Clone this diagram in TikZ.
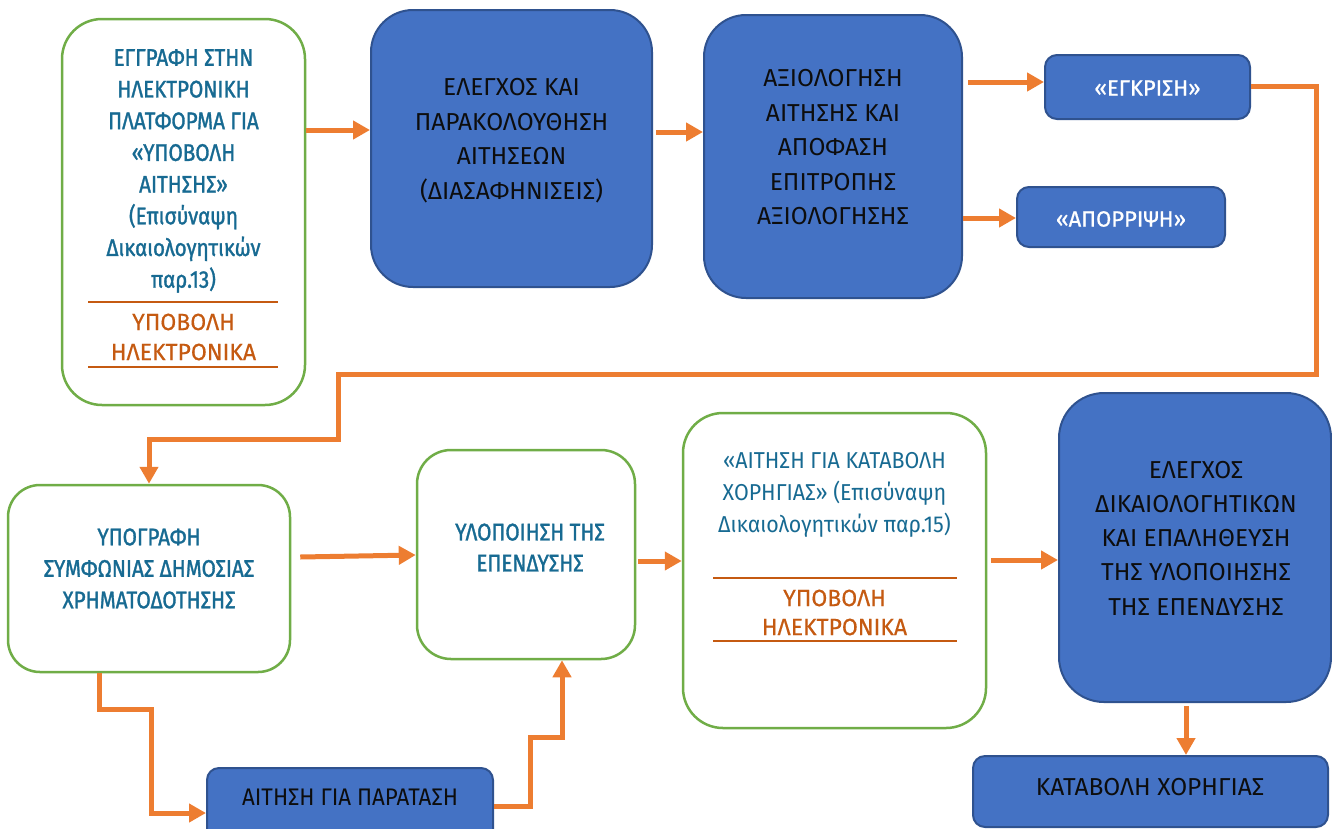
\documentclass[tikz,border=0pt]{standalone}
\usepackage{fontspec}
\setmainfont{Fira Sans}
\newfontfamily\tealf{Fira Sans}[FakeStretch=0.86,FakeBold=1.3]
\newfontfamily\narf{Fira Sans}[FakeStretch=0.93]
\newfontfamily\orgf{Fira Sans}[FakeStretch=0.98,FakeBold=0.4]
\newfontfamily\whf{Fira Sans}[FakeBold=0.8]
\usetikzlibrary{arrows.meta,calc}
\definecolor{ogn}{HTML}{70AD47}
\definecolor{oblue}{HTML}{4472C4}
\definecolor{oblueb}{HTML}{2F528F}
\definecolor{oarr}{HTML}{ED7D31}
\definecolor{oorg}{HTML}{C55A11}
\definecolor{oteal}{HTML}{176A92}
\definecolor{otxt}{HTML}{0D0D0D}
\begin{document}
\begin{tikzpicture}[x=1pt,y=-1pt,
  gbox/.style={draw=ogn, line width=2.5pt, fill=white, rounded corners=#1, inner sep=0pt},
  bbox/.style={draw=oblueb, line width=2pt, fill=oblue, rounded corners=#1, inner sep=0pt},
  tealtxt/.style={text=oteal, align=center, inner sep=0pt, font=\tealf\fontsize{24}{31.7}\selectfont},
  orgtxt/.style={text=oorg, align=center, inner sep=0pt, font=\orgf\fontsize{23.5}{30}\selectfont},
  blktxt/.style={text=otxt, align=center, inner sep=0pt, font=\fontsize{24.5}{34.5}\selectfont},
  whtxt/.style={text=white, align=center, inner sep=0pt, font=\whf\fontsize{22}{26}\selectfont},
  orule/.style={draw=oorg, line width=2pt},
  arr/.style={draw=oarr, line width=5pt, line join=miter, -{Triangle[length=17pt,width=18pt]}}
]
\useasboundingbox (0,0) rectangle (1332,828);

% boxes
\node[gbox=40pt, minimum width=243pt, minimum height=386pt] (A) at (183.5,212) {};
\node[bbox=42pt, minimum width=281pt, minimum height=277pt] (B) at (511.5,148.5) {};
\node[bbox=42pt, minimum width=258pt, minimum height=283pt] (C) at (833,156.5) {};
\node[bbox=12pt, minimum width=205pt, minimum height=64pt] (K) at (1147.5,87) {};
\node[bbox=12pt, minimum width=208pt, minimum height=60pt] (R) at (1121,217) {};
\node[gbox=32pt, minimum width=282pt, minimum height=187pt] (D) at (149,578.5) {};
\node[gbox=34pt, minimum width=218pt, minimum height=209pt] (E) at (526,554.5) {};
\node[gbox=40pt, minimum width=303pt, minimum height=315pt] (F) at (834.5,570.5) {};
\node[bbox=45pt, minimum width=272pt, minimum height=309pt] (G) at (1195,547.5) {};
\node[bbox=12pt, minimum width=355pt, minimum height=71pt] (H) at (1150.5,791.5) {};
\node[bbox=12pt, minimum width=286pt, minimum height=77pt] (I) at (350,806.5) {};

% texts
\node[tealtxt] (tA1) at (183.5,171) {ΕΓΓΡΑΦΗ ΣΤΗΝ\\ΗΛΕΚΤΡΟΝΙΚΗ\\ΠΛΑΤΦΟΡΜΑ ΓΙΑ\\«ΥΠΟΒΟΛΗ\\ΑΙΤΗΣΗΣ»\\(Επισύναψη\\Δικαιολογητικών\\παρ.13)};
\node[orgtxt] (tA2) at (183.5,337) {ΥΠΟΒΟΛΗ\\ΗΛΕΚΤΡΟΝΙΚΑ};
\draw[orule] (88,302) -- (278,302);
\draw[orule] (88,367) -- (278,367);

\node[blktxt] (tB) at (511.5,140.5) {ΕΛΕΓΧΟΣ ΚΑΙ\\ΠΑΡΑΚΟΛΟΥΘΗΣΗ\\ΑΙΤΗΣΕΩΝ\\(ΔΙΑΣΑΦΗΝΙΣΕΙΣ)};
\node[blktxt] (tC) at (833,147.5) {ΑΞΙΟΛΟΓΗΣΗ\\ΑΙΤΗΣΗΣ ΚΑΙ\\ΑΠΟΦΑΣΗ\\ΕΠΙΤΡΟΠΗΣ\\ΑΞΙΟΛΟΓΗΣΗΣ};
\node[whtxt] (tK) at (1147.5,88) {«ΕΓΚΡΙΣΗ»};
\node[whtxt] (tR) at (1121,219) {«ΑΠΟΡΡΙΨΗ»};

\node[tealtxt, font=\tealf\fontsize{24}{31.5}\selectfont] (tD) at (149,568.5) {ΥΠΟΓΡΑΦΗ\\ΣΥΜΦΩΝΙΑΣ ΔΗΜΟΣΙΑΣ\\ΧΡΗΜΑΤΟΔΟΤΗΣΗΣ};
\node[tealtxt, font=\tealf\fontsize{24}{31}\selectfont] (tE) at (530,547.5) {ΥΛΟΠΟΙΗΣΗ ΤΗΣ\\ΕΠΕΝΔΥΣΗΣ};
\node[tealtxt, font=\narf\fontsize{23}{32}\selectfont] (tF1) at (834.5,495) {«ΑΙΤΗΣΗ ΓΙΑ ΚΑΤΑΒΟΛΗ\\ΧΟΡΗΓΙΑΣ» (Επισύναψη\\Δικαιολογητικών παρ.15)};
\node[orgtxt, font=\orgf\fontsize{23.5}{29}\selectfont] (tF2) at (834.5,612.5) {ΥΠΟΒΟΛΗ\\ΗΛΕΚΤΡΟΝΙΚΑ};
\draw[orule] (713,578) -- (957,578);
\draw[orule] (713,641) -- (957,641);

\node[blktxt, font=\fontsize{24.5}{34.25}\selectfont] (tG) at (1196,538) {ΕΛΕΓΧΟΣ\\ΔΙΚΑΙΟΛΟΓΗΤΙΚΩΝ\\ΚΑΙ ΕΠΑΛΗΘΕΥΣΗ\\ΤΗΣ ΥΛΟΠΟΙΗΣΗΣ\\ΤΗΣ ΕΠΕΝΔΥΣΗΣ};
\node[blktxt] (tH) at (1150,787) {ΚΑΤΑΒΟΛΗ ΧΟΡΗΓΙΑΣ};
\node[blktxt, font=\narf\fontsize{24}{30}\selectfont] (tI) at (350,797) {ΑΙΤΗΣΗ ΓΙΑ ΠΑΡΑΤΑΣΗ};

% connectors
\draw[arr] (A.east |- 0,130) -- (B.west |- 0,130);
\draw[arr] ($(B.east |- 0,132)+(3,0)$) -- (C.west |- 0,132);
\draw[arr] ($(C.east |- 0,82)+(5,0)$) -- (K.west |- 0,82);
\draw[arr] (C.east |- 0,218) -- (R.west |- 0,218);
\draw[arr] (K.east |- 0,86) -| (1316,374) -| (338,439) -| (D.north);
\draw[arr] ($(D.east)+(9,-21.5)$) -- ($(E.west)+(0,0.5)$);
\draw[arr] ($(E.east |- 0,561)+(2,0)$) -- (F.west |- 0,561);
\draw[arr] ($(F.east |- 0,560)+(4,0)$) -- (G.west |- 0,560);
\draw[arr] ($(G.south -| 1186,0)+(0,3)$) -- (H.north -| 1186,0);
\draw[arr] (D.south -| 99,0) |- (151,709) |- (I.west |- 0,813);
\draw[arr] (I.east |- 0,806) -| (530,737) -| (E.south -| 562,0);
\end{tikzpicture}
\end{document}
